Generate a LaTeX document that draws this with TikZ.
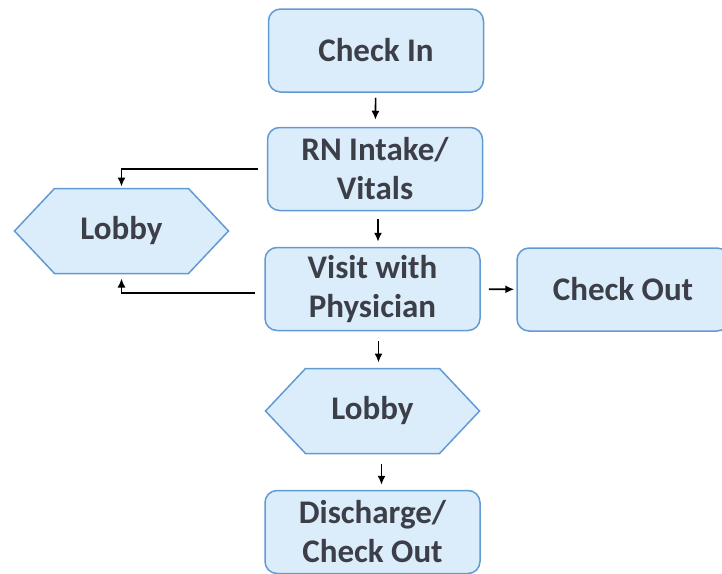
\documentclass[tikz,border=0pt]{standalone}
\usepackage{fontspec}
\setmainfont{Carlito}
\usetikzlibrary{arrows.meta}
\definecolor{boxfill}{RGB}{219,236,250}
\definecolor{boxline}{RGB}{98,154,212}
\definecolor{boxtext}{RGB}{60,62,72}
\tikzset{
  stepbox/.style={draw=boxline, fill=boxfill, line width=1.5pt, rounded corners=12pt,
    minimum width=215pt, minimum height=83pt, align=center, text=boxtext, inner sep=0pt,
    font=\fontsize{33}{39}\selectfont\bfseries},
  hexbox/.style={minimum width=214pt, minimum height=85pt, align=center, text=boxtext,
    inner sep=0pt, outer sep=0pt, font=\fontsize{33}{39}\selectfont\bfseries},
  hexline/.style={draw=boxline, fill=boxfill, line width=1.5pt},
  flow/.style={-{Latex[length=9pt,width=8pt]}, line width=1.6pt, black},
}
\begin{document}
\begin{tikzpicture}[x=1pt,y=-1pt]
\useasboundingbox (0,0) rectangle (722,573);

%boxes
\node[stepbox] (checkin) at (376,50.5) {Check In};
\node[stepbox] (intake) at (375,169) {RN Intake/\\Vitals};
\node[stepbox] (visit) at (372.5,289) {Visit with\\Physician};
\node[stepbox, minimum width=212pt] (checkout) at (623,289.5) {Check Out};
\node[stepbox] (discharge) at (372.5,532) {Discharge/\\Check Out};

%hexagons
\node[hexbox] (lobbyL) at (121.5,231) {};
\node[hexbox] (lobbyB) at (372.5,411) {};
\foreach \n in {lobbyL,lobbyB}
  \draw[hexline] (\n.west) -- ([xshift=40pt]\n.north west) -- ([xshift=-40pt]\n.north east)
    -- (\n.east) -- ([xshift=-40pt]\n.south east) -- ([xshift=40pt]\n.south west) -- cycle;
\node[hexbox] at (lobbyL) {Lobby};
\node[hexbox] at (lobbyB) {Lobby};

%arrows
\draw[flow, shorten <=5pt, shorten >=7pt] (checkin) -- (intake);
\draw[flow, shorten <=8pt, shorten >=5pt] ([xshift=3pt]intake.south) -- ([xshift=3pt]intake.south |- visit.north);
\draw[flow, shorten <=8pt, shorten >=2pt] (visit) -- (checkout);
\draw[flow, shorten <=10pt, shorten >=6pt] ([xshift=6pt]visit.south) -- ([xshift=6pt]visit.south |- lobbyB.north);
\draw[flow, shorten <=10pt, shorten >=5pt] ([xshift=9pt]lobbyB.south) -- ([xshift=9pt]lobbyB.south |- discharge.north);
\draw[flow, shorten <=9pt, shorten >=2pt] (intake.west) -| (lobbyL.north);
\draw[flow, shorten <=9pt, shorten >=5pt] ([yshift=-4pt]visit.west) -| (lobbyL.south);

\end{tikzpicture}
\end{document}
